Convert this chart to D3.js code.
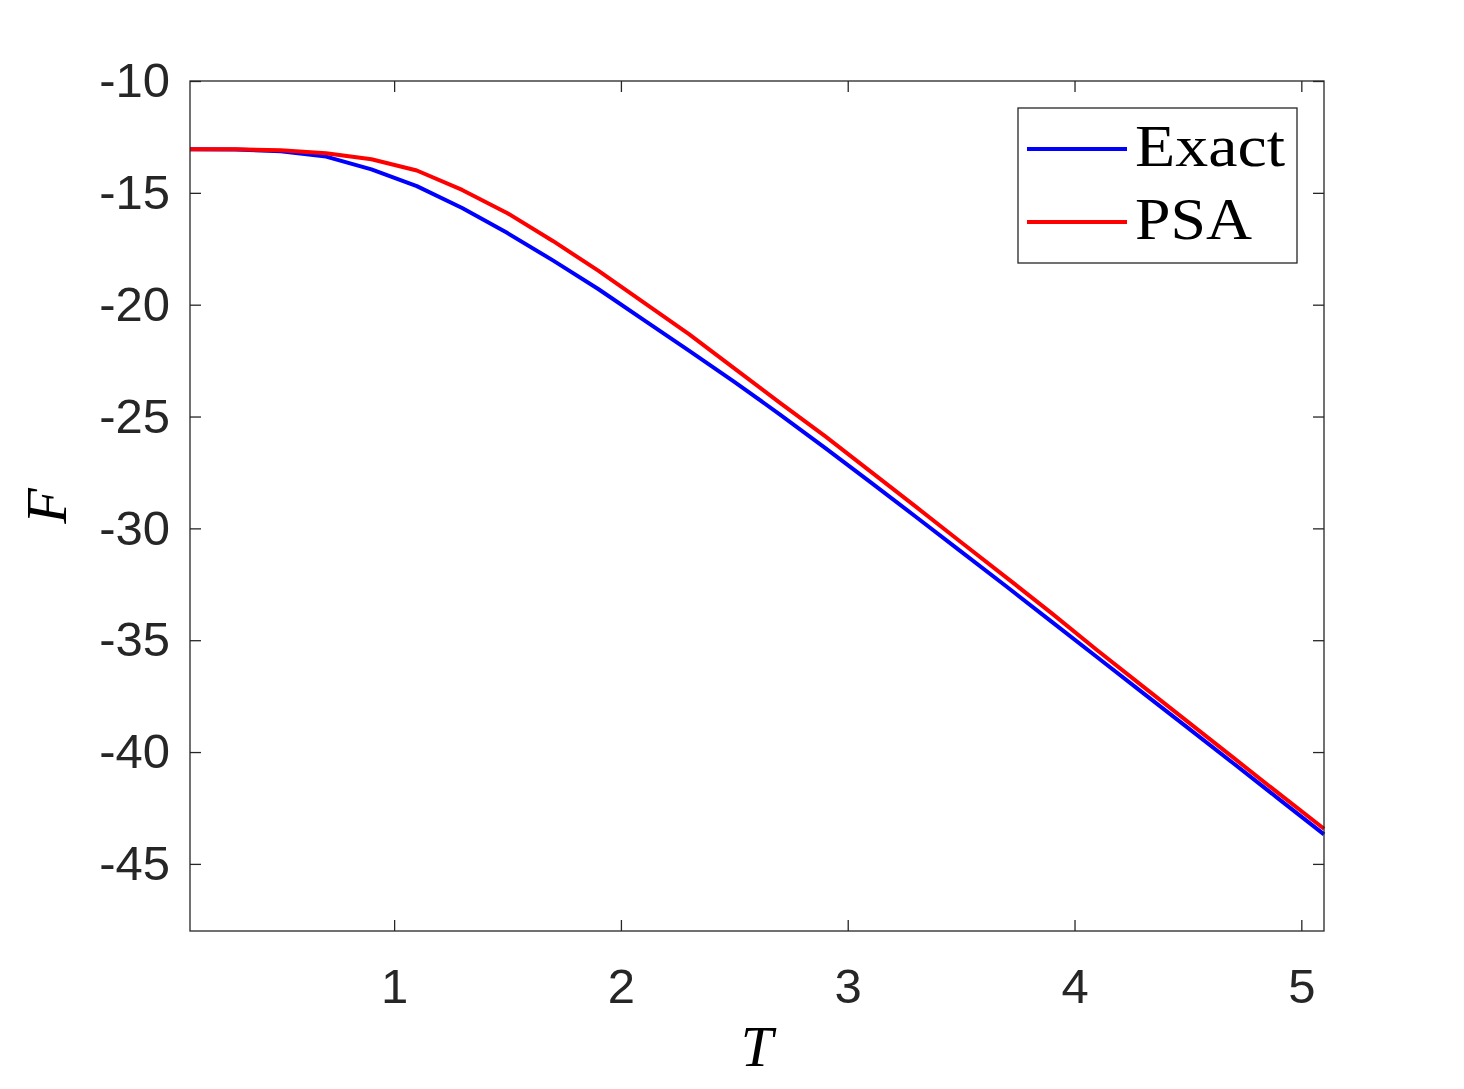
<!DOCTYPE html>
<html>
<head>
<meta charset="utf-8">
<script src="https://cdn.jsdelivr.net/npm/d3@7"></script>
<style>
  html, body { margin: 0; padding: 0; background: #fff; }
  svg { display: block; }
  .tick text { font-family: "Liberation Sans", Arial, sans-serif; fill: #262626; }
</style>
</head>
<body>
<div id="chart"></div>
<script>
'use strict';

// data
const temps = [0.1, 0.3, 0.5, 0.7, 0.9, 1.1, 1.3, 1.5, 1.7, 1.9, 2.1, 2.3, 2.5,
               2.7, 2.9, 3.1, 3.3, 3.5, 3.7, 3.9, 4.1, 4.3, 4.5, 4.7, 4.9, 5.1];
const exactF = [-13.05, -13.06, -13.14, -13.38, -13.95, -14.70, -15.68, -16.80, -18.02,
                -19.30, -20.68, -22.05, -23.45, -24.90, -26.40, -27.93, -29.48, -31.04,
                -32.60, -34.18, -35.76, -37.34, -38.92, -40.50, -42.09, -43.68];
const psaF = [-13.05, -13.05, -13.10, -13.23, -13.50, -14.00, -14.87, -15.91, -17.15,
              -18.48, -19.90, -21.32, -22.85, -24.38, -25.88, -27.45, -29.03, -30.62,
              -32.20, -33.80, -35.45, -37.05, -38.65, -40.25, -41.85, -43.43];
const xTicks = [1, 2, 3, 4, 5];
const yTicks = [-10, -15, -20, -25, -30, -35, -40, -45];
const seriesNames = ['Exact', 'PSA'];
const seriesColors = ['#0000ff', '#ff0000'];

const width = 1464, height = 1089;
const plotL = 190, plotR = 1324, plotT = 81, plotB = 931;
const axisColor = '#262626';
const tickFont = 49;

const x = d3.scaleLinear([0.1, 5.1], [plotL, plotR]);
const y = d3.scaleLinear([-48, -10], [plotB, plotT]);

const svg = d3.select('#chart').append('svg')
    .attr('width', width)
    .attr('height', height);

// lines
const line = d3.line()
    .x(d => x(d[0]))
    .y(d => y(d[1]));

const series = [exactF, psaF];
series.forEach((vals, i) => {
    svg.append('path')
        .datum(temps.map((t, k) => [t, vals[k]]))
        .attr('fill', 'none')
        .attr('stroke', seriesColors[i])
        .attr('stroke-width', 4)
        .attr('stroke-linejoin', 'round')
        .attr('d', line);
});

// axes, ticks pointing inward like matlab
const tickLen = 11;
function styleAxis(g) {
    g.select('.domain').remove();
    g.selectAll('.tick line').attr('stroke', axisColor).attr('stroke-width', 1.3);
}

svg.append('g')
    .attr('transform', `translate(0,${plotB})`)
    .call(d3.axisBottom(x).tickValues(xTicks).tickSize(-tickLen).tickPadding(37).tickFormat(d3.format('d')))
    .call(styleAxis)
    .call(g => g.selectAll('.tick text').attr('font-size', tickFont));

svg.append('g')
    .attr('transform', `translate(0,${plotT})`)
    .call(d3.axisTop(x).tickValues(xTicks).tickSize(-tickLen).tickFormat(''))
    .call(styleAxis);

svg.append('g')
    .attr('transform', `translate(${plotL},0)`)
    .call(d3.axisLeft(y).tickValues(yTicks).tickSize(-tickLen).tickPadding(20).tickFormat(d => d))
    .call(styleAxis)
    .call(g => g.selectAll('.tick text').attr('font-size', tickFont));

svg.append('g')
    .attr('transform', `translate(${plotR},0)`)
    .call(d3.axisRight(y).tickValues(yTicks).tickSize(-tickLen).tickFormat(''))
    .call(styleAxis);

// frame
svg.append('rect')
    .attr('x', plotL).attr('y', plotT)
    .attr('width', plotR - plotL).attr('height', plotB - plotT)
    .attr('fill', 'none')
    .attr('stroke', axisColor)
    .attr('stroke-width', 1.3);

// axis labels
svg.append('text')
    .attr('x', (plotL + plotR) / 2)
    .attr('y', 1066)
    .attr('text-anchor', 'middle')
    .attr('font-family', '"Liberation Serif", serif')
    .attr('font-style', 'italic')
    .attr('font-size', 58)
    .text('T');

svg.append('text')
    .attr('transform', `translate(66,${(plotT + plotB) / 2}) rotate(-90)`)
    .attr('text-anchor', 'middle')
    .attr('font-family', '"Liberation Serif", serif')
    .attr('font-style', 'italic')
    .attr('font-size', 58)
    .text('F');

// legend
const legend = svg.append('g');
legend.append('rect')
    .attr('x', 1018).attr('y', 108)
    .attr('width', 279).attr('height', 155)
    .attr('fill', '#fff')
    .attr('stroke', axisColor)
    .attr('stroke-width', 1.3);

const legendRows = [149, 222];
seriesNames.forEach((name, i) => {
    legend.append('line')
        .attr('x1', 1027).attr('x2', 1127)
        .attr('y1', legendRows[i]).attr('y2', legendRows[i])
        .attr('stroke', seriesColors[i])
        .attr('stroke-width', 4);
    legend.append('text')
        .attr('x', 1135)
        .attr('y', legendRows[i] + 17)
        .attr('font-family', '"Liberation Serif", serif')
        .attr('font-size', 59)
        .attr('fill', '#000')
        .attr('textLength', i === 0 ? 150 : 117)
        .attr('lengthAdjust', 'spacingAndGlyphs')
        .text(name);
});
</script>
</body>
</html>
